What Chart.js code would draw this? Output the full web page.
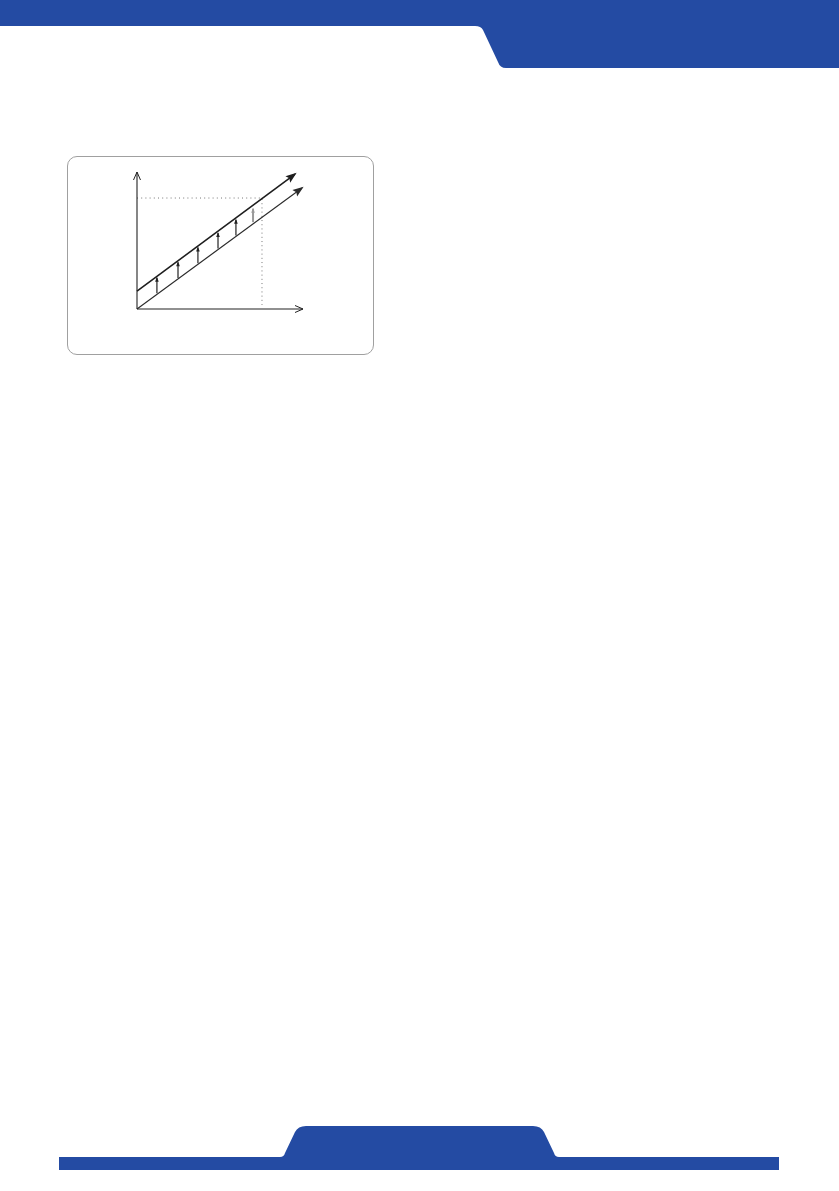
<!DOCTYPE html>
<html>
<head>
<meta charset="utf-8">
<script src="https://cdn.jsdelivr.net/npm/chart.js@4.4.1/dist/chart.umd.min.js"></script>
<style>
  html, body { margin:0; padding:0; background:#fff; }
  body { width:839px; height:1191px; position:relative; overflow:hidden; font-family:"DejaVu Sans", sans-serif; }
  #deco { position:absolute; left:0; top:0; }
  #box { position:absolute; left:67px; top:156px; width:307px; height:199px; border:1.3px solid #a0a0a0; border-radius:10px; box-sizing:border-box; }
  #c { position:absolute; left:0; top:0; }
</style>
</head>
<body>
<svg id="deco" width="839" height="1191" viewBox="0 0 839 1191">
  <path d="M0 0 H839 V68 H506 Q500 68 498 62 L483 30 Q481 26 475 26 H0 Z" fill="#244ba3"/>
  <path d="M59 1157 H280 Q284 1157 285 1153 L295 1132 Q298 1126 306 1126 H533 Q541 1126 544 1132 L554 1153 Q555 1157 559 1157 H779 V1170 H59 Z" fill="#244ba3"/>
</svg>
<div id="box"></div>
<canvas id="c" width="839" height="1191"></canvas>
<script>
// ---- data (abstract units of the diagram) ----
const xAxisX = [0, 100];
const xAxisY = [0, 0];
const yAxisX = [0, 0];
const yAxisY = [0, 100];
const lowerLineX = [0, 99.4];
const lowerLineY = [0, 88.3];
const upperLineX = [0, 95.2];
const upperLineY = [13.1, 98.5];
const guideX = [0, 75.3, 75.3];
const guideY = [81, 81, 3];
const riseX = [12, 24.7, 36.7, 48.8, 59.6, 69.9];
const riseFrom = [11.5, 22.7, 33.4, 44.1, 53.7, 63.4];
const riseTo = [22.9, 34.1, 44.8, 55.5, 65.1, 73.2];
const riseColors = ['#222', '#222', '#222', '#222', '#222', '#9a9a9a'];

const pts = (xs, ys) => xs.map((x, i) => ({x: x, y: ys[i]}));

const datasets = [
  {data: pts(xAxisX, xAxisY), borderColor:'#222', borderWidth:1.1, arrow:'open'},
  {data: pts(yAxisX, yAxisY), borderColor:'#222', borderWidth:1.1, arrow:'open'},
  {data: pts(lowerLineX, lowerLineY), borderColor:'#2a2a2a', borderWidth:1.1, arrow:'filled'},
  {data: pts(upperLineX, upperLineY), borderColor:'#1e1e1e', borderWidth:1.6, arrow:'filled'},
  {data: pts(guideX, guideY), borderColor:'#777', borderWidth:1, borderDash:[1,3.2]}
];
riseX.forEach((x, i) => {
  datasets.push({data:[{x:x, y:riseFrom[i]}, {x:x, y:riseTo[i]}], borderColor:riseColors[i], borderWidth: i === 5 ? 2 : 1.2, arrow:'small'});
});
datasets.forEach(d => { d.showLine = true; d.pointRadius = 0; d.fill = false; d.clip = false; d.tension = 0; });

const arrowPlugin = {
  id: 'arrows',
  afterDatasetsDraw(chart) {
    const ctx = chart.ctx;
    chart.data.datasets.forEach((ds, i) => {
      if (!ds.arrow) return;
      const el = chart.getDatasetMeta(i).data;
      const a = el[el.length - 2], b = el[el.length - 1];
      const ang = Math.atan2(b.y - a.y, b.x - a.x);
      ctx.save();
      ctx.translate(b.x, b.y);
      ctx.rotate(ang);
      ctx.strokeStyle = ds.borderColor;
      ctx.fillStyle = ds.borderColor;
      if (ds.arrow === 'open') {
        ctx.lineWidth = 1;
        ctx.beginPath();
        ctx.moveTo(-8, -3.5); ctx.lineTo(0, 0); ctx.lineTo(-8, 3.5);
        ctx.stroke();
      } else if (ds.arrow === 'filled') {
        ctx.beginPath();
        ctx.moveTo(2, 0); ctx.lineTo(-9, -4); ctx.lineTo(-7, 0); ctx.lineTo(-9, 4);
        ctx.closePath(); ctx.fill();
      } else {
        ctx.beginPath();
        ctx.moveTo(1, 0); ctx.lineTo(-4, -1.8); ctx.lineTo(-4, 1.8);
        ctx.closePath(); ctx.fill();
      }
      ctx.restore();
    });
  }
};

new Chart(document.getElementById('c'), {
  type: 'scatter',
  data: { datasets: datasets },
  options: {
    responsive: false,
    animation: false,
    events: [],
    layout: { padding: { left: 137, right: 839 - 303, top: 172, bottom: 1191 - 309 } },
    plugins: { legend: {display:false}, tooltip: {enabled:false} },
    scales: {
      x: { type:'linear', min:0, max:100, display:false },
      y: { type:'linear', min:0, max:100, display:false }
    }
  },
  plugins: [arrowPlugin]
});
</script>
</body>
</html>
